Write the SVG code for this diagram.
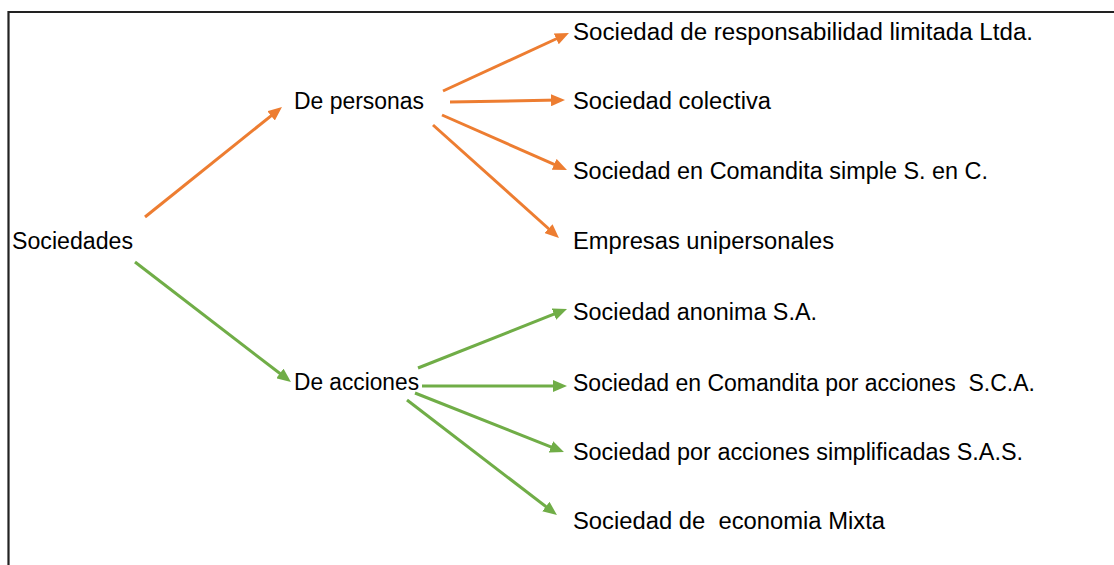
<svg xmlns="http://www.w3.org/2000/svg" width="1114" height="565" viewBox="0 0 1114 565">
<style>
text{font-family:"Liberation Sans",Arial,sans-serif;font-size:23px;fill:#000}
.o{stroke:#ED7D31;stroke-width:3;fill:none}
.g{stroke:#70AD47;stroke-width:3;fill:none}
</style>
<defs>
<marker id="ao" markerUnits="userSpaceOnUse" markerWidth="14" markerHeight="12" refX="8" refY="6" orient="auto"><path d="M0,0 L14,6 L0,12 z" fill="#ED7D31"/></marker>
<marker id="ag" markerUnits="userSpaceOnUse" markerWidth="14" markerHeight="12" refX="8" refY="6" orient="auto"><path d="M0,0 L14,6 L0,12 z" fill="#70AD47"/></marker>
</defs>
<rect width="1114" height="565" fill="#fff"/>
<path d="M8.5,565 V12 H1114" fill="none" stroke="#222" stroke-width="2.2"/>
<g id="connectors">
<line class="o" x1="145" y1="217" x2="277.3" y2="110.8" marker-end="url(#ao)"/>
<line class="o" x1="443" y1="91" x2="563.5" y2="35.5" marker-end="url(#ao)"/>
<line class="o" x1="450" y1="102" x2="559" y2="100.1" marker-end="url(#ao)"/>
<line class="o" x1="442" y1="115" x2="561.5" y2="167.6" marker-end="url(#ao)"/>
<line class="o" x1="433" y1="125" x2="554.5" y2="234" marker-end="url(#ao)"/>
<line class="g" x1="135" y1="262" x2="286.2" y2="378.3" marker-end="url(#ag)"/>
<line class="g" x1="418" y1="368" x2="561.4" y2="311.2" marker-end="url(#ag)"/>
<line class="g" x1="422" y1="386" x2="561" y2="386" marker-end="url(#ag)"/>
<line class="g" x1="415" y1="393" x2="558.4" y2="449.8" marker-end="url(#ag)"/>
<line class="g" x1="407" y1="400" x2="552.2" y2="511.4" marker-end="url(#ag)"/>
</g>
<g id="n-sociedades"><text x="12" y="249" textLength="121" lengthAdjust="spacingAndGlyphs">Sociedades</text></g>
<g id="n-personas"><text x="294" y="109" textLength="130" lengthAdjust="spacingAndGlyphs">De personas</text></g>
<g id="n-acciones"><text x="294" y="390" textLength="125" lengthAdjust="spacingAndGlyphs">De acciones</text></g>
<g id="n-ltda"><text x="573" y="40" textLength="460" lengthAdjust="spacingAndGlyphs">Sociedad de responsabilidad limitada Ltda.</text></g>
<g id="n-colectiva"><text x="573" y="109" textLength="198" lengthAdjust="spacingAndGlyphs">Sociedad colectiva</text></g>
<g id="n-comandita-simple"><text x="573" y="179" textLength="415" lengthAdjust="spacingAndGlyphs">Sociedad en Comandita simple S. en C.</text></g>
<g id="n-unipersonales"><text x="573" y="249" textLength="261" lengthAdjust="spacingAndGlyphs">Empresas unipersonales</text></g>
<g id="n-anonima"><text x="573" y="320" textLength="244" lengthAdjust="spacingAndGlyphs">Sociedad anonima S.A.</text></g>
<g id="n-sca"><text x="573" y="391" textLength="462" lengthAdjust="spacingAndGlyphs" xml:space="preserve">Sociedad en Comandita por acciones  S.C.A.</text></g>
<g id="n-sas"><text x="573" y="460" textLength="450" lengthAdjust="spacingAndGlyphs">Sociedad por acciones simplificadas S.A.S.</text></g>
<g id="n-mixta"><text x="573" y="529" textLength="312" lengthAdjust="spacingAndGlyphs" xml:space="preserve">Sociedad de  economia Mixta</text></g>
</svg>
